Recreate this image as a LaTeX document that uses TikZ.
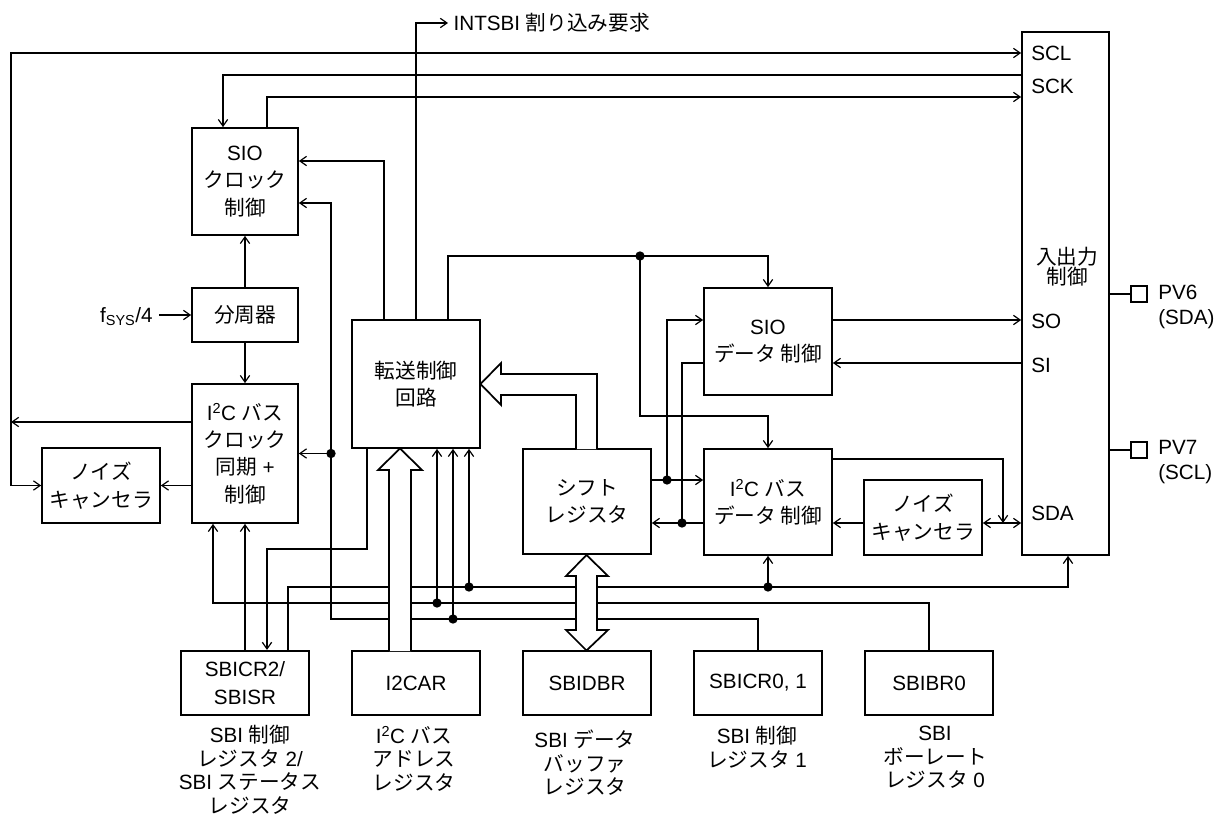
\documentclass[tikz,border=0pt]{standalone}
\usepackage{fontspec}
\setmainfont{Liberation Sans}
\newfontfamily\jpf{Noto Sans CJK JP}
\newcommand\J[1]{{\jpf #1}}
\usetikzlibrary{arrows.meta,calc}
\begin{document}
\begin{tikzpicture}[x=0.75pt,y=-0.75pt,
  font=\fontsize{15.5}{20.5}\selectfont,
  box/.style={draw,line width=1.3pt,inner sep=0pt,align=center},
  reg/.style={draw,line width=1.6pt,inner sep=0pt,align=center},
  sz/.style 2 args={minimum width=#1*0.75pt,minimum height=#2*0.75pt},
  ln/.style={line width=0.9pt},
  arr/.style={ln,-{Straight Barb[length=5pt,width=7pt]}},
  dbl/.style={ln,{Straight Barb[length=5pt,width=7pt]}-{Straight Barb[length=5pt,width=7pt]}},
  dot/.style={circle,fill,inner sep=0pt,minimum size=7pt},
  fat/.style={draw,line width=1.3pt,fill=white,line join=miter},
  lbl/.style={inner sep=0pt,align=center,font=\fontsize{15.5}{17.6}\selectfont},
  pin/.style={draw,line width=1.6pt,inner sep=0pt,minimum width=12.5pt,minimum height=12pt},
]
\useasboundingbox (0,0) rectangle (1217,816);

% boxes
\node[box,sz={106}{107}] (sioclk) at (245,181.5) {SIO\\\J{クロック}\\\J{制御}};
\node[box,sz={106}{54}] (div) at (245,315) {\J{分周器}};
\node[box,sz={106}{139}] (i2cclk) at (245,453.5) {I\textsuperscript{2}C \J{バス}\\\J{クロック}\\\J{同期} +\\\J{制御}};
\node[box,sz={118}{75}] (ncl) at (101,485.5) {\J{ノイズ}\\\J{キャンセラ}};
\node[box,sz={128}{128}] (tx) at (416,384) {\J{転送制御}\\\J{回路}};
\node[box,sz={128}{105}] (shift) at (587,501.5) {\J{シフト}\\\J{レジスタ}};
\node[box,sz={128}{107}] (siod) at (768,341.5) {SIO\\\J{データ 制御}};
\node[box,sz={128}{106}] (i2cd) at (768,502) {I\textsuperscript{2}C \J{バス}\\\J{データ 制御}};
\node[box,sz={118}{75}] (ncr) at (923,517.5) {\J{ノイズ}\\\J{キャンセラ}};
\node[box,sz={87}{523}] (io) at (1065.5,293.5) {};
\node[lbl,font=\fontsize{15.5}{15}\selectfont] (iot) at (1067,267) {\J{入出力}\\\J{制御}};
\node[anchor=west,inner sep=0pt] (scl) at (1031,53) {SCL};
\node[anchor=west,inner sep=0pt] (sck) at (1031,86) {SCK};
\node[anchor=west,inner sep=0pt] (so) at (1031,321) {SO};
\node[anchor=west,inner sep=0pt] (si) at (1031,365) {SI};
\node[anchor=west,inner sep=0pt] (sda) at (1031,513) {SDA};

% pins
\node[pin] (pv6) at (1139,294) {};
\node[pin] (pv7) at (1139,450) {};
\node[anchor=west,inner sep=0pt,align=left,font=\fontsize{15.5}{18.75}\selectfont] (pv6t) at (1158,307) {PV6\\(SDA)};
\node[anchor=west,inner sep=0pt,align=left,font=\fontsize{15.5}{18.75}\selectfont] (pv7t) at (1158,462) {PV7\\(SCL)};

% registers
\node[reg,sz={128}{64}] (sbicr2) at (245,683) {SBICR2/\\SBISR};
\node[reg,sz={128}{64}] (i2car) at (416,683) {I2CAR};
\node[reg,sz={128}{64}] (sbidbr) at (587,683) {SBIDBR};
\node[reg,sz={128}{64}] (sbicr01) at (758,683) {SBICR0, 1};
\node[reg,sz={128}{64}] (sbibr0) at (929,683) {SBIBR0};

\node[lbl,anchor=north] (l1) at (250,725) {SBI \J{制御}\\\J{レジスタ} 2/\\SBI \J{ステータス}\\\J{レジスタ}};
\node[lbl,anchor=north] (l2) at (414,726) {I\textsuperscript{2}C \J{バス}\\\J{アドレス}\\\J{レジスタ}};
\node[lbl,anchor=north] (l3) at (585,730) {SBI \J{データ}\\\J{バッファ}\\\J{レジスタ}};
\node[lbl,anchor=north] (l4) at (757,726) {SBI \J{制御}\\\J{レジスタ} 1};
\node[lbl,anchor=north] (l5) at (935,726) {SBI\\\J{ボーレート}\\\J{レジスタ} 0};

% external texts
\node[anchor=east,inner sep=4.5pt,text depth=0pt] (fsys) at (159,315) {f\textsubscript{SYS}/4};
\node[anchor=west,inner sep=4pt] (intsbi) at (448,23) {INTSBI \J{割り込み要求}};

% levels
\coordinate (h75) at (0,75);
\coordinate (h97) at (0,97);
\coordinate (h161) at (0,161);
\coordinate (h203) at (0,203);
\coordinate (h320) at (0,320);
\coordinate (h363) at (0,363);
\coordinate (h416) at (0,416);
\coordinate (h422) at (0,422);
\coordinate (h459) at (0,459);
\coordinate (h480) at (0,480);
\coordinate (h523) at (0,523);
\coordinate (busL) at (11,485.5);
\coordinate (j1) at (640,256);
\coordinate (j331) at (331,453.5);
\coordinate (c331) at (331,619);
\coordinate (j453) at (453,619);
\coordinate (c213) at (213,603);
\coordinate (j437) at (437,603);
\coordinate (c1068) at (1068,587);
\coordinate (j469) at (469,587);
\coordinate (j768) at (768,587);
\coordinate (c267) at (267,549);
\coordinate (j667) at (667,480);
\coordinate (j682) at (682,523);
\coordinate (j1003) at (1003,523);

% connectors
\draw[dbl] (io.west |- scl) -| (busL) -- (ncl.west);
\draw[arr] (i2cclk.west |- h422) -- (busL |- h422);
\draw[arr] (i2cclk.west |- ncl.east) -- (ncl.east);
\draw[arr] (io.west |- h75) -| ($(sioclk.north)+(-22,0)$);
\draw[arr] ($(sioclk.north)+(22,0)$) |- (io.west |- h97);
\draw[arr] (tx.north) |- (intsbi.west);
\draw[arr] ($(tx.north)+(-32,0)$) |- (sioclk.east |- h161);
\draw[arr] ($(tx.north)+(32,0)$) |- (j1) -| (siod.north);
\draw[arr] (j1) |- (i2cd.north |- h416) -- (i2cd.north);
\draw[arr] (sbicr01.north) |- (c331) |- (sioclk.east |- h203);
\draw[arr] (j331) -- (i2cclk.east);
\draw[arr] (j453) -- (j453 |- tx.south);
\draw[arr] (sbibr0.north) |- (c213) -- (c213 |- i2cclk.south);
\draw[arr] (j437) -- (j437 |- tx.south);
\draw[arr] (sbicr2.north) -- (i2cclk.south);
\draw[arr] ($(sbicr2.north)+(43,0)$) |- (c1068) -- (c1068 |- io.south);
\draw[arr] (j469) -- (j469 |- tx.south);
\draw[arr] (j768) -- (i2cd.south);
\draw[arr] ($(tx.south)+(-49,0)$) |- (c267) -- (c267 |- sbicr2.north);
\draw[arr] (div.north) -- (sioclk.south);
\draw[arr] (div.south) -- (i2cclk.north);
\draw[arr] (fsys.east) -- (div.west);
\draw[arr] (shift.east |- h480) -- (i2cd.west |- h480);
\draw[arr] (j667) |- (siod.west |- h320);
\draw[ln] (siod.west |- h363) -| (j682);
\draw[arr] (i2cd.west |- h523) -- (shift.east |- h523);
\draw[arr] (siod.east |- h320) -- (io.west |- h320);
\draw[arr] (io.west |- h363) -- (siod.east |- h363);
\draw[arr] (i2cd.east |- h459) -| (j1003);
\draw[dbl] (ncr.east |- h523) -- (io.west |- h523);
\draw[arr] (ncr.west |- h523) -- (i2cd.east |- h523);
\draw[ln] (io.east |- pv6) -- (pv6.west);
\draw[ln] (io.east |- pv7) -- (pv7.west);

% fat arrows
\draw[fat] (389,651) -- (389,470) -- (378,470) -- (400,448.5) -- (422,470) -- (411,470) -- (411,651);
\draw[fat] (586.5,555) -- (608,576) -- (597,576) -- (597,630) -- (608,630) -- (586.5,650.5) -- (566,630) -- (576,630) -- (576,576) -- (566,576) -- cycle;
\draw[fat] (576,449) -- (576,395) -- (501,395) -- (501,405) -- (480.5,384) -- (501,363) -- (501,374) -- (597,374) -- (597,449);

% junction dots
\foreach \j in {j1,j331,j453,j437,j469,j768,j667,j682}
  \node[dot] at (\j) {};
\end{tikzpicture}
\end{document}
